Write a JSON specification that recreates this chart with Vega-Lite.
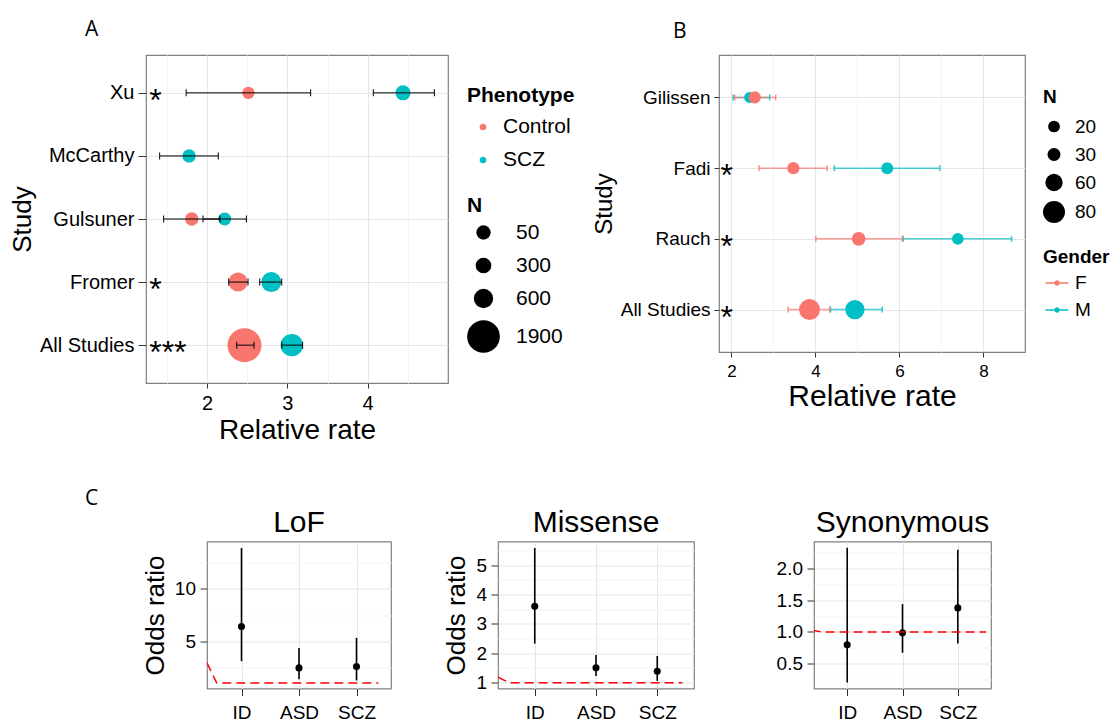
{
  "$schema": "https://vega.github.io/schema/vega-lite/v6.json",
  "padding": {"left": -8, "top": 18, "right": 0, "bottom": 0},
  "background": "white",
  "config": {
    "font": "Liberation Sans",
    "view": {"stroke": null},
    "axis": {"domain": false, "labelOverlap": false, "labelColor": "#000000", "tickColor": "#333333", "titleColor": "#000000", "titleFontWeight": "normal", "gridColor": "#e6e6e6", "labelFont": "Liberation Sans", "titleFont": "Liberation Sans"},
    "legend": {"layout": {"right": {"anchor": "middle", "direction": "vertical", "margin": 25}}, "titleColor": "#000000", "labelColor": "#000000", "padding": 0},
    "title": {"fontWeight": "normal", "color": "#000000"}
  },
  "datasets": {
    "a": [
      {"Study": "Xu", "Phenotype": "Control", "Rate": 2.515, "Lo": 1.74, "Hi": 3.29, "N": 10},
      {"Study": "Xu", "Phenotype": "SCZ", "Rate": 4.44, "Lo": 4.07, "Hi": 4.83, "N": 175},
      {"Study": "McCarthy", "Phenotype": "SCZ", "Rate": 1.776, "Lo": 1.41, "Hi": 2.14, "N": 30},
      {"Study": "Gulsuner", "Phenotype": "Control", "Rate": 1.81, "Lo": 1.46, "Hi": 2.16, "N": 30},
      {"Study": "Gulsuner", "Phenotype": "SCZ", "Rate": 2.22, "Lo": 1.95, "Hi": 2.49, "N": 24},
      {"Study": "Fromer", "Phenotype": "Control", "Rate": 2.386, "Lo": 2.27, "Hi": 2.51, "N": 572},
      {"Study": "Fromer", "Phenotype": "SCZ", "Rate": 2.8, "Lo": 2.656, "Hi": 2.93, "N": 650},
      {"Study": "All Studies", "Phenotype": "Control", "Rate": 2.466, "Lo": 2.37, "Hi": 2.585, "N": 2063},
      {"Study": "All Studies", "Phenotype": "SCZ", "Rate": 3.055, "Lo": 2.93, "Hi": 3.19, "N": 832}
    ],
    "asig": [
      {"Study": "Xu", "Sig": "*"},
      {"Study": "Fromer", "Sig": "*"},
      {"Study": "All Studies", "Sig": "***"}
    ],
    "b": [
      {"Study": "Gilissen", "Gender": "M", "Rate": 2.436, "Lo": 2.04, "Hi": 2.912, "N": 15},
      {"Study": "Gilissen", "Gender": "F", "Rate": 2.555, "Lo": 2.079, "Hi": 3.055, "N": 24},
      {"Study": "Fadi", "Gender": "F", "Rate": 3.476, "Lo": 2.66, "Hi": 4.28, "N": 24},
      {"Study": "Fadi", "Gender": "M", "Rate": 5.71, "Lo": 4.45, "Hi": 6.96, "N": 22},
      {"Study": "Rauch", "Gender": "F", "Rate": 5.03, "Lo": 4.01, "Hi": 6.07, "N": 34},
      {"Study": "Rauch", "Gender": "M", "Rate": 7.39, "Lo": 6.09, "Hi": 8.67, "N": 20},
      {"Study": "All Studies", "Gender": "F", "Rate": 3.86, "Lo": 3.35, "Hi": 4.34, "N": 75},
      {"Study": "All Studies", "Gender": "M", "Rate": 4.94, "Lo": 4.36, "Hi": 5.59, "N": 68}
    ],
    "bsig": [
      {"Study": "Fadi", "Sig": "*"},
      {"Study": "Rauch", "Sig": "*"},
      {"Study": "All Studies", "Sig": "*"}
    ],
    "lof": [
      {"Group": "ID", "OR": 6.4, "Lo": 3.09, "Hi": 13.9},
      {"Group": "ASD", "OR": 2.45, "Lo": 1.37, "Hi": 4.36},
      {"Group": "SCZ", "OR": 2.58, "Lo": 1.25, "Hi": 5.32}
    ],
    "mis": [
      {"Group": "ID", "OR": 3.6, "Lo": 2.33, "Hi": 5.59},
      {"Group": "ASD", "OR": 1.51, "Lo": 1.23, "Hi": 1.94},
      {"Group": "SCZ", "OR": 1.39, "Lo": 1.06, "Hi": 1.91}
    ],
    "syn": [
      {"Group": "ID", "OR": 0.795, "Lo": 0.2, "Hi": 2.33},
      {"Group": "ASD", "OR": 0.985, "Lo": 0.67, "Hi": 1.44},
      {"Group": "SCZ", "OR": 1.38, "Lo": 0.815, "Hi": 2.3}
    ],
    "lofl": [
      {"lx": 0.4, "ly": 2.93},
      {"lx": 0.569, "ly": 1.0},
      {"lx": 3.38, "ly": 1.0}
    ],
    "misl": [
      {"lx": 0.4, "ly": 1.19},
      {"lx": 0.577, "ly": 1.0},
      {"lx": 3.41, "ly": 1.0}
    ],
    "synl": [
      {"lx": 0.36, "ly": 1.03},
      {"lx": 0.534, "ly": 1.0},
      {"lx": 3.51, "ly": 1.0}
    ]
  },
  "spacing": 42.5,
  "align": "none",
  "resolve": {"scale": {"color": "independent", "size": "independent", "fill": "independent"}, "legend": {"color": "independent", "size": "independent", "fill": "independent"}},
  "vconcat": [
    {
      "spacing": 15,
      "align": "none",
      "resolve": {"scale": {"color": "independent", "size": "independent", "fill": "independent"}, "legend": {"color": "independent", "size": "independent", "fill": "independent"}},
      "hconcat": [
        {
          "width": 1,
          "height": 1,
          "view": {"fill": "#ffffff", "stroke": null},
          "data": {"values": []},
          "mark": {"type": "point", "opacity": 0}
        },
        {
          "width": 302,
          "height": 328,
          "title": {"text": "A", "anchor": "start", "frame": "group", "dx": -61, "offset": 15, "font": "Open Sans", "fontSize": 21},
          "view": {"stroke": "#808080", "strokeWidth": 1.2},
          "layer": [
            {
              "data": {"name": "a"},
              "mark": {"type": "point", "filled": true, "opacity": 1},
              "encoding": {
                "x": {"field": "Rate", "type": "quantitative", "title": "Relative rate",
                  "scale": {"domain": [1.24, 5.0], "nice": false, "zero": false},
                  "axis": {"values": [1.5, 2, 2.5, 3, 3.5, 4, 4.5], "tickCount": 20, "labelExpr": "datum.value % 1 === 0 ? format(datum.value, 'd') : ''", "labelOverlap": false, "labelFlush": false,
                    "tickOpacity": {"condition": {"test": "datum.value % 1 === 0", "value": 1}, "value": 0},
                    "gridColor": {"condition": {"test": "datum.value % 1 === 0", "value": "#e6e6e6"}, "value": "#f5f5f5"},
                    "tickSize": 5, "labelPadding": 5, "labelFontSize": 20, "titleFontSize": 28, "titlePadding": 3}},
                "y": {"field": "Study", "type": "nominal", "title": "Study", "sort": ["Xu", "McCarthy", "Gulsuner", "Fromer", "All Studies"],
                  "scale": {"type": "point", "padding": 0.6, "domain": ["Xu", "McCarthy", "Gulsuner", "Fromer", "All Studies"]},
                  "axis": {"grid": true, "gridColor": "#e6e6e6", "tickSize": 8, "labelPadding": 4, "labelFontSize": 20, "titleFontSize": 26, "titlePadding": 4}},
                "color": {"field": "Phenotype", "type": "nominal",
                  "scale": {"domain": ["Control", "SCZ"], "range": ["#F8766D", "#00BFC4"]},
                  "legend": {"title": "Phenotype", "titleFontSize": 21, "titleFontWeight": "bold", "labelFontSize": 21, "offset": 19,
                    "symbolType": "M0.21,0A0.21,0.21,0,1,1,-0.21,0A0.21,0.21,0,1,1,0.21,0Z", "symbolSize": 1024, "symbolStrokeWidth": 0, "labelOffset": 4, "rowPadding": 7, "titlePadding": 5}},
                "size": {"field": "N", "type": "quantitative",
                  "scale": {"domain": [10, 50, 300, 600, 1900], "range": [150, 205, 245, 373, 1069]},
                  "legend": {"title": "N", "values": [50, 300, 600, 1900], "format": "d", "titleFontSize": 21, "titleFontWeight": "bold", "labelFontSize": 21, "offset": 19,
                    "symbolType": "circle", "symbolFillColor": "#000000", "symbolStrokeColor": "#000000", "symbolStrokeWidth": 0, "symbolOpacity": 1, "labelOffset": 16, "rowPadding": 11, "titlePadding": 6}}
              }
            },
            {
              "data": {"name": "a"},
              "mark": {"type": "rule", "color": "#000000", "strokeWidth": 1},
              "encoding": {
                "x": {"field": "Lo", "type": "quantitative"},
                "x2": {"field": "Hi"},
                "y": {"field": "Study", "type": "nominal", "sort": ["Xu", "McCarthy", "Gulsuner", "Fromer", "All Studies"]}
              }
            },
            {
              "data": {"name": "a"},
              "mark": {"type": "tick", "color": "#000000", "size": 7, "thickness": 1, "opacity": 1},
              "encoding": {
                "x": {"field": "Lo", "type": "quantitative"},
                "y": {"field": "Study", "type": "nominal", "sort": ["Xu", "McCarthy", "Gulsuner", "Fromer", "All Studies"]}
              }
            },
            {
              "data": {"name": "a"},
              "mark": {"type": "tick", "color": "#000000", "size": 7, "thickness": 1, "opacity": 1},
              "encoding": {
                "x": {"field": "Hi", "type": "quantitative"},
                "y": {"field": "Study", "type": "nominal", "sort": ["Xu", "McCarthy", "Gulsuner", "Fromer", "All Studies"]}
              }
            },
            {
              "data": {"name": "asig"},
              "mark": {"type": "text", "align": "left", "baseline": "middle", "dy": 8, "fontSize": 32, "color": "#000000"},
              "encoding": {
                "x": {"datum": 1.28, "type": "quantitative"},
                "y": {"field": "Study", "type": "nominal", "sort": ["Xu", "McCarthy", "Gulsuner", "Fromer", "All Studies"]},
                "text": {"field": "Sig"}
              }
            }
          ]
        },
        {
          "width": 306,
          "height": 297,
          "title": {"text": "B", "anchor": "start", "frame": "group", "dx": -46, "offset": 13, "font": "Open Sans", "fontSize": 21},
          "view": {"stroke": "#808080", "strokeWidth": 1.2},
          "layer": [
            {
              "data": {"name": "b"},
              "mark": {"type": "rule", "strokeWidth": 1.5, "opacity": 0.7},
              "encoding": {
                "x": {"field": "Lo", "type": "quantitative", "title": "Relative rate",
                  "scale": {"domain": [1.705, 8.99], "nice": false, "zero": false},
                  "axis": {"values": [2, 3, 4, 5, 6, 7, 8], "tickCount": 20, "labelExpr": "datum.value % 2 === 0 ? format(datum.value, 'd') : ''", "labelOverlap": false, "labelFlush": false,
                    "tickOpacity": {"condition": {"test": "datum.value % 2 === 0", "value": 1}, "value": 0},
                    "gridColor": {"condition": {"test": "datum.value % 2 === 0", "value": "#e6e6e6"}, "value": "#f5f5f5"},
                    "tickSize": 5, "labelPadding": 6, "labelFontSize": 17, "titleFontSize": 30, "titlePadding": 2}},
                "x2": {"field": "Hi"},
                "y": {"field": "Study", "type": "nominal", "title": "Study", "sort": ["Gilissen", "Fadi", "Rauch", "All Studies"],
                  "scale": {"type": "point", "padding": 0.6, "domain": ["Gilissen", "Fadi", "Rauch", "All Studies"]},
                  "axis": {"grid": true, "gridColor": "#e6e6e6", "tickSize": 5, "labelPadding": 4, "labelFontSize": 19, "titleFontSize": 24, "titlePadding": 4}},
                "color": {"field": "Gender", "type": "nominal", "scale": {"domain": ["M", "F"], "range": ["#00BFC4", "#F8766D"]}, "legend": null}
              }
            },
            {
              "data": {"name": "b"},
              "mark": {"type": "tick", "size": 6, "thickness": 1.5, "opacity": 0.8},
              "encoding": {
                "x": {"field": "Lo", "type": "quantitative"},
                "y": {"field": "Study", "type": "nominal", "sort": ["Gilissen", "Fadi", "Rauch", "All Studies"]},
                "color": {"field": "Gender", "type": "nominal", "legend": null}
              }
            },
            {
              "data": {"name": "b"},
              "mark": {"type": "tick", "size": 6, "thickness": 1.5, "opacity": 0.8},
              "encoding": {
                "x": {"field": "Hi", "type": "quantitative"},
                "y": {"field": "Study", "type": "nominal", "sort": ["Gilissen", "Fadi", "Rauch", "All Studies"]},
                "color": {"field": "Gender", "type": "nominal", "legend": null}
              }
            },
            {
              "data": {"name": "b"},
              "mark": {"type": "point", "filled": true, "opacity": 1},
              "encoding": {
                "x": {"field": "Rate", "type": "quantitative"},
                "y": {"field": "Study", "type": "nominal", "sort": ["Gilissen", "Fadi", "Rauch", "All Studies"]},
                "fill": {"field": "Gender", "type": "nominal",
                  "scale": {"domain": ["F", "M"], "range": ["#F8766D", "#00BFC4"]},
                  "legend": {"title": "Gender", "titleFontSize": 19, "titleFontWeight": "bold", "labelFontSize": 19, "offset": 18,
                    "symbolType": "M-0.82,-0.05L-0.19,-0.05L-0.19,0.05L-0.82,0.05Z M0.19,-0.05L0.82,-0.05L0.82,0.05L0.19,0.05Z M0.19,0A0.19,0.19,0,1,1,-0.19,0A0.19,0.19,0,1,1,0.19,0Z",
                    "symbolSize": 784, "symbolStrokeWidth": 0, "labelOffset": 4, "rowPadding": 3, "titlePadding": 2}},
                "size": {"field": "N", "type": "quantitative",
                  "scale": {"domain": [20, 30, 60, 80], "range": [137, 169, 300, 484]},
                  "legend": {"title": "N", "values": [20, 30, 60, 80], "format": "d", "titleFontSize": 19, "titleFontWeight": "bold", "labelFontSize": 19, "offset": 18,
                    "symbolType": "circle", "symbolFillColor": "#000000", "symbolStrokeColor": "#000000", "symbolStrokeWidth": 0, "symbolOpacity": 1, "labelOffset": 10, "rowPadding": 8, "titlePadding": 10}}
              }
            },
            {
              "data": {"name": "bsig"},
              "mark": {"type": "text", "align": "left", "baseline": "middle", "dy": 8, "fontSize": 32, "color": "#000000"},
              "encoding": {
                "x": {"datum": 1.74, "type": "quantitative"},
                "y": {"field": "Study", "type": "nominal", "sort": ["Gilissen", "Fadi", "Rauch", "All Studies"]},
                "text": {"field": "Sig"}
              }
            }
          ]
        }
      ]
    },
    {
      "spacing": 51,
      "align": "none",
      "title": {"text": "C", "anchor": "start", "frame": "bounds", "dx": 93, "offset": -2.5, "font": "Open Sans", "fontSize": 21},
      "hconcat": [
        {
          "width": 98,
          "height": 10,
          "view": {"fill": "#ffffff", "stroke": null},
          "data": {"values": []},
          "mark": {"type": "point", "opacity": 0}
        },
        {
          "width": 184,
          "height": 147,
          "title": {"text": "LoF", "fontSize": 30, "offset": 4},
          "view": {"stroke": "#808080", "strokeWidth": 1.2},
          "resolve": {"scale": {"x": "independent"}},
          "layer": [
            {
              "data": {"name": "lof"},
              "mark": {"type": "rule", "color": "#000000", "strokeWidth": 1.6},
              "encoding": {
                "x": {"field": "Group", "type": "nominal", "title": null, "sort": ["ID", "ASD", "SCZ"],
                  "scale": {"type": "point", "padding": 0.6, "domain": ["ID", "ASD", "SCZ"]},
                  "axis": {"orient": "bottom", "grid": true, "gridColor": "#e6e6e6", "tickSize": 7, "labelPadding": 8, "labelFontSize": 19, "labelAngle": 0}},
                "y": {"field": "Lo", "type": "quantitative", "title": "Odds ratio",
                  "scale": {"domain": [0.48, 14.53], "nice": false, "zero": false},
                  "axis": {"values": [2.5, 5, 7.5, 10, 12.5], "tickCount": 20, "labelExpr": "datum.value % 5 === 0 ? format(datum.value, 'd') : ''", "labelOverlap": false, "labelFlush": false,
                    "tickOpacity": {"condition": {"test": "datum.value % 5 === 0", "value": 1}, "value": 0},
                    "gridColor": {"condition": {"test": "datum.value % 5 === 0", "value": "#e6e6e6"}, "value": "#f5f5f5"},
                    "tickSize": 7, "labelPadding": 4.5, "labelFontSize": 19, "titleFontSize": 26, "titlePadding": 6}},
                "y2": {"field": "Hi"}
              }
            },
            {
              "data": {"name": "lof"},
              "mark": {"type": "point", "filled": true, "color": "#000000", "size": 50, "opacity": 1},
              "encoding": {
                "x": {"field": "Group", "type": "nominal", "sort": ["ID", "ASD", "SCZ"], "title": null,
                  "scale": {"type": "point", "padding": 0.6, "domain": ["ID", "ASD", "SCZ"]}, "axis": null},
                "y": {"field": "OR", "type": "quantitative"}
              }
            },
            {
              "data": {"name": "lofl"},
              "mark": {"type": "line", "color": "#ff0000", "strokeWidth": 1.5, "strokeDash": [9, 5], "clip": true},
              "encoding": {
                "x": {"field": "lx", "type": "quantitative", "scale": {"domain": [0.4, 3.6], "nice": false, "zero": false}, "axis": null},
                "y": {"field": "ly", "type": "quantitative"}
              }
            }
          ]
        },
        {
          "width": 196,
          "height": 147,
          "title": {"text": "Missense", "fontSize": 30, "offset": 4},
          "view": {"stroke": "#808080", "strokeWidth": 1.2},
          "resolve": {"scale": {"x": "independent"}},
          "layer": [
            {
              "data": {"name": "mis"},
              "mark": {"type": "rule", "color": "#000000", "strokeWidth": 1.6},
              "encoding": {
                "x": {"field": "Group", "type": "nominal", "title": null, "sort": ["ID", "ASD", "SCZ"],
                  "scale": {"type": "point", "padding": 0.6, "domain": ["ID", "ASD", "SCZ"]},
                  "axis": {"orient": "bottom", "grid": true, "gridColor": "#e6e6e6", "tickSize": 7, "labelPadding": 8, "labelFontSize": 19, "labelAngle": 0}},
                "y": {"field": "Lo", "type": "quantitative", "title": "Odds ratio",
                  "scale": {"domain": [0.8, 5.81], "nice": false, "zero": false},
                  "axis": {"values": [1, 1.5, 2, 2.5, 3, 3.5, 4, 4.5, 5, 5.5], "tickCount": 20, "labelExpr": "datum.value % 1 === 0 ? format(datum.value, 'd') : ''", "labelOverlap": false, "labelFlush": false,
                    "tickOpacity": {"condition": {"test": "datum.value % 1 === 0", "value": 1}, "value": 0},
                    "gridColor": {"condition": {"test": "datum.value % 1 === 0", "value": "#e6e6e6"}, "value": "#f5f5f5"},
                    "tickSize": 7, "labelPadding": 4.5, "labelFontSize": 19, "titleFontSize": 26, "titlePadding": 6}},
                "y2": {"field": "Hi"}
              }
            },
            {
              "data": {"name": "mis"},
              "mark": {"type": "point", "filled": true, "color": "#000000", "size": 50, "opacity": 1},
              "encoding": {
                "x": {"field": "Group", "type": "nominal", "sort": ["ID", "ASD", "SCZ"], "title": null,
                  "scale": {"type": "point", "padding": 0.6, "domain": ["ID", "ASD", "SCZ"]}, "axis": null},
                "y": {"field": "OR", "type": "quantitative"}
              }
            },
            {
              "data": {"name": "misl"},
              "mark": {"type": "line", "color": "#ff0000", "strokeWidth": 1.5, "strokeDash": [9, 5], "clip": true},
              "encoding": {
                "x": {"field": "lx", "type": "quantitative", "scale": {"domain": [0.4, 3.6], "nice": false, "zero": false}, "axis": null},
                "y": {"field": "ly", "type": "quantitative"}
              }
            }
          ]
        },
        {
          "width": 177,
          "height": 147,
          "title": {"text": "Synonymous", "fontSize": 30, "offset": 4},
          "view": {"stroke": "#808080", "strokeWidth": 1.2},
          "resolve": {"scale": {"x": "independent"}},
          "layer": [
            {
              "data": {"name": "syn"},
              "mark": {"type": "rule", "color": "#000000", "strokeWidth": 1.6},
              "encoding": {
                "x": {"field": "Group", "type": "nominal", "title": null, "sort": ["ID", "ASD", "SCZ"],
                  "scale": {"type": "point", "padding": 0.6, "domain": ["ID", "ASD", "SCZ"]},
                  "axis": {"orient": "bottom", "grid": true, "gridColor": "#e6e6e6", "tickSize": 7, "labelPadding": 8, "labelFontSize": 19, "labelAngle": 0}},
                "y": {"field": "Lo", "type": "quantitative", "title": "Odds ratio",
                  "scale": {"domain": [0.105, 2.43], "nice": false, "zero": false},
                  "axis": {"values": [0.25, 0.5, 0.75, 1, 1.25, 1.5, 1.75, 2, 2.25], "tickCount": 20, "labelExpr": "(datum.value * 2) % 1 === 0 ? format(datum.value, '.1f') : ''", "labelOverlap": false, "labelFlush": false,
                    "tickOpacity": {"condition": {"test": "(datum.value * 2) % 1 === 0", "value": 1}, "value": 0},
                    "gridColor": {"condition": {"test": "(datum.value * 2) % 1 === 0", "value": "#e6e6e6"}, "value": "#f5f5f5"},
                    "tickSize": 7, "labelPadding": 4.5, "labelFontSize": 19, "titleFontSize": 26, "titlePadding": 3, "titleOpacity": 0}},
                "y2": {"field": "Hi"}
              }
            },
            {
              "data": {"name": "syn"},
              "mark": {"type": "point", "filled": true, "color": "#000000", "size": 50, "opacity": 1},
              "encoding": {
                "x": {"field": "Group", "type": "nominal", "sort": ["ID", "ASD", "SCZ"], "title": null,
                  "scale": {"type": "point", "padding": 0.6, "domain": ["ID", "ASD", "SCZ"]}, "axis": null},
                "y": {"field": "OR", "type": "quantitative"}
              }
            },
            {
              "data": {"name": "synl"},
              "mark": {"type": "line", "color": "#ff0000", "strokeWidth": 1.5, "strokeDash": [9, 5], "clip": true},
              "encoding": {
                "x": {"field": "lx", "type": "quantitative", "scale": {"domain": [0.4, 3.6], "nice": false, "zero": false}, "axis": null},
                "y": {"field": "ly", "type": "quantitative"}
              }
            }
          ]
        }
      ]
    }
  ]
}
